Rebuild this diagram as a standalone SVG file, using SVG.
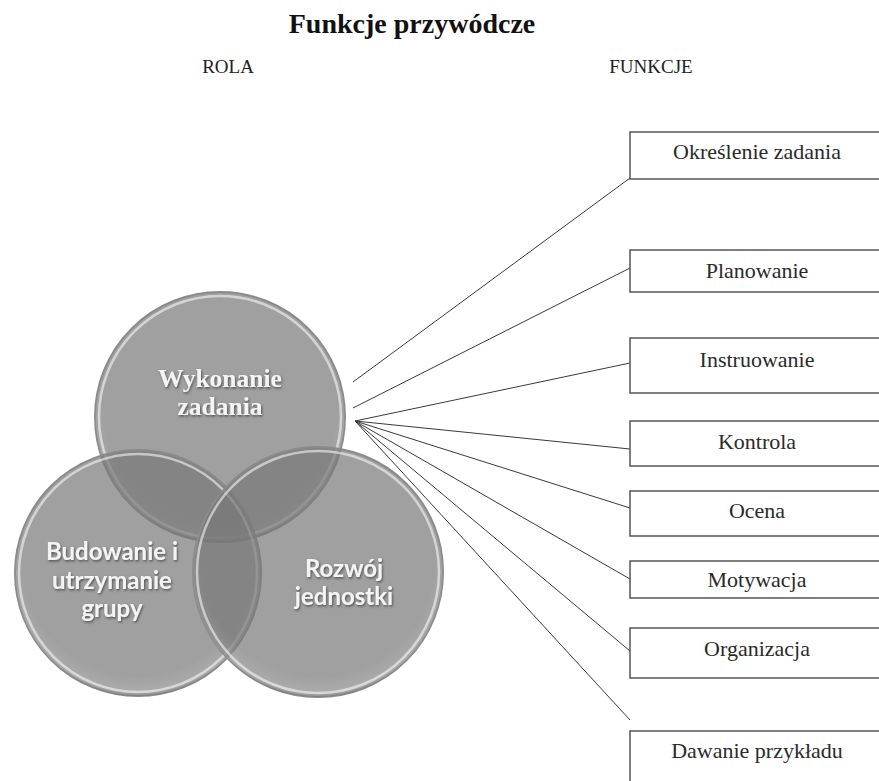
<svg xmlns="http://www.w3.org/2000/svg" width="879" height="781" viewBox="0 0 879 781">
  <defs>
    <style>
      .title { font-family: "Liberation Serif", "Times New Roman", serif; font-weight: bold; font-size: 28px; fill: #111; text-anchor: middle; }
      .head { font-family: "Liberation Serif", "Times New Roman", serif; font-size: 19px; fill: #222; text-anchor: middle; }
      .box rect { fill: #fff; stroke: #555; stroke-width: 1.5; }
      .box text { font-family: "Liberation Serif", "Times New Roman", serif; font-size: 22px; fill: #2a2a2a; text-anchor: middle; }
      .disc { fill: #787878; fill-opacity: 0.7; stroke: #8a8a8a; stroke-width: 2; }
      .rim { fill: none; stroke: #ffffff; stroke-opacity: 0.55; stroke-width: 2.5; }
      .shade { fill: url(#bevel); }
      .lbl-serif { font-family: "Liberation Serif", "Times New Roman", serif; font-weight: bold; font-size: 25.5px; fill: #f4f4f4; text-anchor: middle; }
      .lbl-sans { font-family: Lato, "Open Sans", sans-serif; font-weight: bold; font-size: 24px; fill: #f4f4f4; text-anchor: middle; }
      .conn line { stroke: #3a3a3a; stroke-width: 1; }
    </style>
    <radialGradient id="bevel" cx="0.5" cy="0.45" r="0.55">
      <stop offset="0.85" stop-color="#ffffff" stop-opacity="0"/>
      <stop offset="0.97" stop-color="#ffffff" stop-opacity="0.12"/>
      <stop offset="1" stop-color="#000000" stop-opacity="0.08"/>
    </radialGradient>
    <filter id="txtShadow" x="-10%" y="-30%" width="120%" height="160%">
      <feDropShadow dx="1" dy="1.5" stdDeviation="1" flood-color="#333" flood-opacity="0.7"/>
    </filter>
  </defs>

  <rect width="879" height="781" fill="#fff"/>

  <!-- headings -->
  <text class="title" x="412" y="33">Funkcje przywódcze</text>
  <text class="head" x="228" y="73">ROLA</text>
  <text class="head" x="651" y="73">FUNKCJE</text>

  <!-- Venn of the three roles -->
  <g id="role-wykonanie">
    <circle class="disc" cx="220" cy="417" r="125"/>
    <circle class="shade" cx="220" cy="417" r="125"/>
    <circle class="rim" cx="220" cy="417" r="121"/>
  </g>
  <g id="role-budowanie">
    <circle class="disc" cx="138" cy="573" r="123"/>
    <circle class="shade" cx="138" cy="573" r="123"/>
    <circle class="rim" cx="138" cy="573" r="119"/>
  </g>
  <g id="role-rozwoj">
    <circle class="disc" cx="318" cy="572" r="125"/>
    <circle class="shade" cx="318" cy="572" r="125"/>
    <circle class="rim" cx="318" cy="572" r="121"/>
  </g>
  <g id="role-labels" filter="url(#txtShadow)">
    <text class="lbl-serif" x="220" y="387">Wykonanie</text>
    <text class="lbl-serif" x="220" y="415">zadania</text>
    <text class="lbl-sans" x="112" y="560">Budowanie i</text>
    <text class="lbl-sans" x="112" y="589">utrzymanie</text>
    <text class="lbl-sans" x="112" y="617">grupy</text>
    <text class="lbl-sans" x="344" y="577">Rozwój</text>
    <text class="lbl-sans" x="344" y="605">jednostki</text>
  </g>

  <!-- connectors from the role to each function -->
  <g id="connectors" class="conn">
    <line x1="353" y1="382" x2="630" y2="178"/>
    <line x1="353" y1="408" x2="630" y2="268"/>
    <line x1="355" y1="421" x2="630" y2="363"/>
    <line x1="355" y1="421" x2="630" y2="449"/>
    <line x1="355" y1="421" x2="630" y2="508"/>
    <line x1="355" y1="421" x2="630" y2="579"/>
    <line x1="355" y1="421" x2="630" y2="651"/>
    <line x1="355" y1="421" x2="630" y2="720"/>
  </g>

  <!-- function boxes -->
  <g id="f-okreslenie" class="box">
    <rect x="630" y="132" width="250" height="47"/>
    <text x="757" y="159">Określenie zadania</text>
  </g>
  <g id="f-planowanie" class="box">
    <rect x="630" y="250" width="250" height="42"/>
    <text x="757" y="278">Planowanie</text>
  </g>
  <g id="f-instruowanie" class="box">
    <rect x="630" y="338" width="250" height="55"/>
    <text x="757" y="367">Instruowanie</text>
  </g>
  <g id="f-kontrola" class="box">
    <rect x="630" y="421" width="250" height="45"/>
    <text x="757" y="449">Kontrola</text>
  </g>
  <g id="f-ocena" class="box">
    <rect x="630" y="491" width="250" height="45"/>
    <text x="757" y="518">Ocena</text>
  </g>
  <g id="f-motywacja" class="box">
    <rect x="630" y="561" width="250" height="37"/>
    <text x="757" y="587">Motywacja</text>
  </g>
  <g id="f-organizacja" class="box">
    <rect x="630" y="628" width="250" height="50"/>
    <text x="757" y="656">Organizacja</text>
  </g>
  <g id="f-dawanie" class="box">
    <rect x="630" y="731" width="250" height="70"/>
    <text x="757" y="758">Dawanie przykładu</text>
  </g>
</svg>
